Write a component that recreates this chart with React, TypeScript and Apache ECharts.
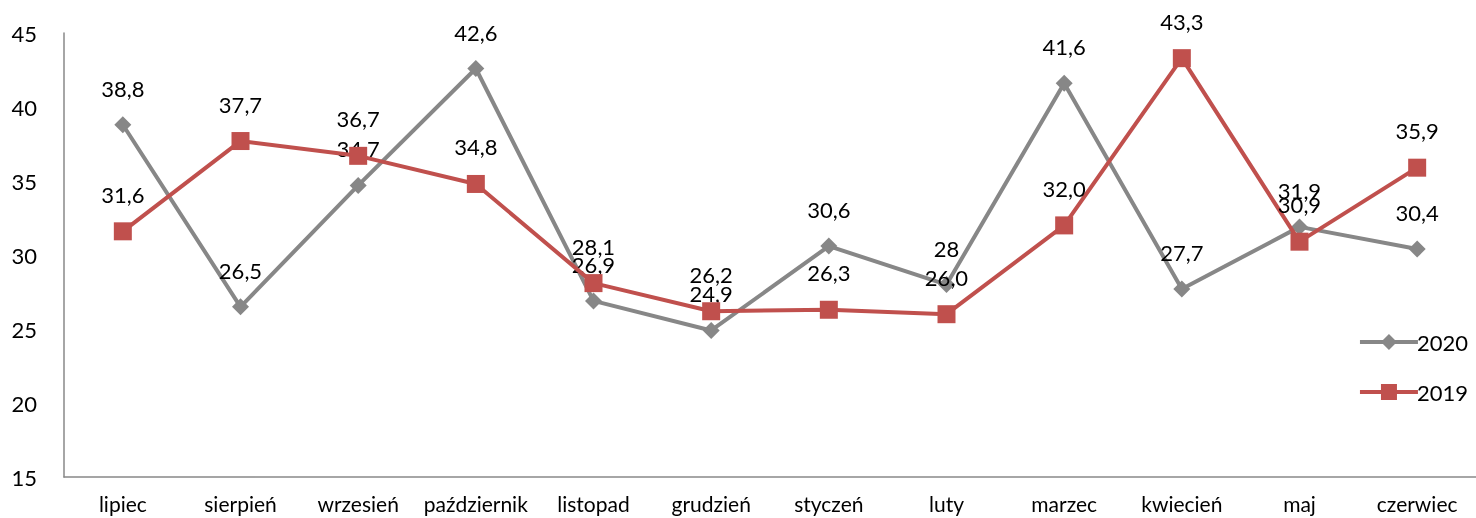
import React, { useEffect, useRef } from "react";
import * as echarts from "echarts";

const categories = ["lipiec", "sierpień", "wrzesień", "październik", "listopad", "grudzień", "styczeń", "luty", "marzec", "kwiecień", "maj", "czerwiec"];
const values2020 = [38.8, 26.5, 34.7, 42.6, 26.9, 24.9, 30.6, 28, 41.6, 27.7, 31.9, 30.4];
const labels2020 = ["38,8", "26,5", "34,7", "42,6", "26,9", "24,9", "30,6", "28", "41,6", "27,7", "31,9", "30,4"];
const values2019 = [31.6, 37.7, 36.7, 34.8, 28.1, 26.2, 26.3, 26.0, 32.0, 43.3, 30.9, 35.9];
const labels2019 = ["31,6", "37,7", "36,7", "34,8", "28,1", "26,2", "26,3", "26,0", "32,0", "43,3", "30,9", "35,9"];

const FONT = "Lato, 'Open Sans', sans-serif";

export default function App() {
  const ref = useRef<HTMLDivElement>(null);
  useEffect(() => {
    if (!ref.current) return;
    const chart = echarts.init(ref.current, undefined, { renderer: "svg" });
    const labelStyle = {
      show: true,
      position: "top" as const,
      distance: 17,
      fontSize: 22,
      color: "#000",
      fontFamily: FONT,
    };
    chart.setOption({
      animation: false,
      textStyle: { fontFamily: FONT },
      grid: { left: 64, right: 0, top: 33, bottom: 41, containLabel: false },
      legend: {
        orient: "vertical",
        right: 3,
        top: 326,
        itemGap: 28,
        itemWidth: 58,
        itemHeight: 20,
        lineStyle: { width: 4 },
        textStyle: { fontSize: 22, color: "#000", fontFamily: FONT, padding: [0, 0, 0, -6] },
        data: ["2020", "2019"],
      },
      xAxis: {
        type: "category",
        data: categories,
        boundaryGap: true,
        axisLine: { lineStyle: { color: "#888", width: 1.5 } },
        axisTick: { show: false },
        axisLabel: { fontSize: 21, color: "#000", fontFamily: FONT, margin: 16, interval: 0 },
      },
      yAxis: {
        type: "value",
        min: 15,
        max: 45,
        interval: 5,
        axisLine: { show: true, lineStyle: { color: "#888", width: 1.5 } },
        axisTick: { show: false },
        splitLine: { show: false },
        axisLabel: { fontSize: 22, color: "#000", fontFamily: FONT, margin: 27 },
      },
      series: [
        {
          name: "2020",
          type: "line",
          data: values2020,
          symbol: "diamond",
          symbolSize: 17,
          itemStyle: { color: "#878787" },
          lineStyle: { color: "#878787", width: 4 },
          label: { ...labelStyle, formatter: (p: any) => labels2020[p.dataIndex] },
          z: 2,
        },
        {
          name: "2019",
          type: "line",
          data: values2019,
          symbol: "rect",
          symbolSize: 18,
          itemStyle: { color: "#C0504D" },
          lineStyle: { color: "#C0504D", width: 4 },
          label: { ...labelStyle, formatter: (p: any) => labels2019[p.dataIndex] },
          z: 3,
        },
      ],
    });
    return () => chart.dispose();
  }, []);
  return <div ref={ref} style={{ position: "fixed", left: 0, top: 0, width: 1476, height: 518 }} />;
}
